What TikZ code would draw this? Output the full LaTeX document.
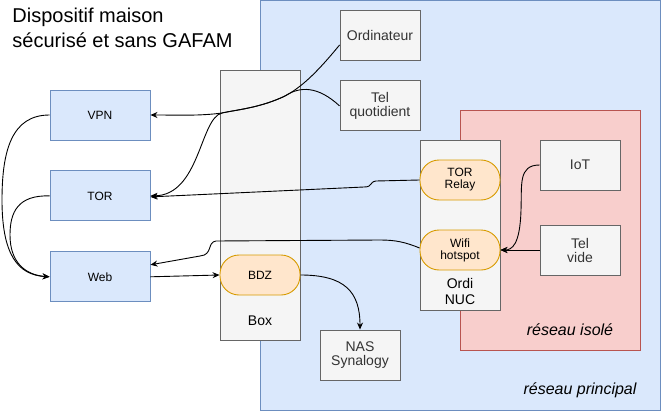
\documentclass[tikz,border=0pt]{standalone}
\usepackage{fontspec}
\setmainfont{Liberation Sans}
\usetikzlibrary{arrows.meta,positioning}
\definecolor{bleuF}{HTML}{DAE8FC}
\definecolor{bleuT}{HTML}{6C8EBF}
\definecolor{grisF}{HTML}{F5F5F5}
\definecolor{grisT}{HTML}{666666}
\definecolor{rougeF}{HTML}{F8CECC}
\definecolor{rougeT}{HTML}{B85450}
\definecolor{orF}{HTML}{FFE6CC}
\definecolor{orT}{HTML}{D79B00}
\definecolor{texte}{HTML}{333333}
\newcommand{\taille}[1]{\fontsize{#1}{#1}\selectfont}

\begin{document}
\begin{tikzpicture}[x=1pt,y=-1pt,line width=0.9pt,>={Stealth[length=7pt,width=6pt]},
  net/.style = {draw=bleuT, fill=bleuF, minimum width=100pt, minimum height=50pt, font=\taille{12}},
  dev/.style = {draw=grisT, fill=grisF, text=texte, minimum width=80pt, minimum height=50pt, align=center, font=\taille{14}},
  grp/.style = {draw=grisT, fill=grisF, minimum width=80pt},
  svc/.style = {draw=orT, fill=orF, rounded corners=19pt, minimum width=80pt, minimum height=40pt, align=center, font=\taille{12}},
  lbl/.style = {font=\taille{16}\itshape}]
  \useasboundingbox (0,0) rectangle (661,412);
  % zones
  \node[draw=bleuT, fill=bleuF, minimum width=400pt, minimum height=410pt] (princ) at (460,205) {};
  \node[draw=rougeT, fill=rougeF, minimum width=180pt, minimum height=240pt] (isole) at (550,230) {};
  \node[lbl] (princlbl) at (580,390) {réseau principal};
  \node[lbl] (isolelbl) at (570,330) {réseau isolé};
  % titre
  \node[anchor=north west, align=left, font=\fontsize{20}{24.5}\selectfont, inner sep=0pt] (titre) at (12,8) {Dispositif maison\\sécurisé et sans GAFAM};
  % box et NUC
  \node[grp, minimum height=270pt] (box) at (260,205) {};
  \node[font=\taille{14}] (boxlbl) at (260,321) {Box};
  \node[svc] (bdz) at (260,275) {BDZ};
  \node[grp, minimum height=170pt] (nuc) at (460,225) {};
  \node[font=\fontsize{14}{16}\selectfont, align=center] (nuclbl) at (460,291) {Ordi\\NUC};
  \node[svc] (relay) at (460,180) {TOR\\Relay};
  \node[svc] (wifi) at (460,250) {Wifi\\hotspot};
  % appareils
  \node[dev] (ord) at (380,35) {Ordinateur};
  \node[dev, below=20pt of ord] (telq) {Tel\\quotidient};
  \node[dev] (nas) at (360,355) {NAS\\Synalogy};
  \node[dev] (iot) at (580,165) {IoT};
  \node[dev] (telv) at (580,250) {Tel\\vide};
  % sorties
  \node[net] (vpn) at (100,115) {VPN};
  \node[net, below=30pt of vpn] (tor) {TOR};
  \node[net, below=30pt of tor] (web) {Web};
  % liens
  \draw[->] ([yshift=-10pt]ord.west) .. controls (315,75) and (300,88) .. (285,96) .. controls (260,108) and (235,110) .. (222,113) .. controls (200,116) and (180,115) .. (vpn.east);
  \draw[->] (telq.west) .. controls (318,86) and (300,86) .. (285,96) .. controls (260,108) and (235,110) .. (222,113) .. controls (200,118) and (200,195) .. (tor.east);
  \draw[->] (relay.west) -- (376,181) .. controls (369,182) and (373,187) .. (364,187) -- ([yshift=-1pt]tor.east);
  \draw[->] ([yshift=2pt]wifi.west) .. controls (405,242) and (395,240) .. (380,240) -- (216,241) .. controls (207,242) and (213,255) .. (200,256) -- ([yshift=12pt]web.east);
  \draw[->] (web.east) -- (bdz.west);
  \draw[->] (bdz.east) .. controls (345,275) and (360,292) .. (nas.north);
  \draw[->] (iot.west) .. controls (518,165) and (522,185) .. (521,210) .. controls (520,245) and (512,250) .. (wifi.east);
  \draw[->] (telv.west) -- (wifi.east);
  \draw[->] (vpn.west) .. controls (12,115) and (2,150) .. (2,200) .. controls (2,255) and (18,275) .. (web.west);
  \draw[->] (tor.west) .. controls (18,195) and (10,212) .. (10,235) .. controls (10,262) and (25,275) .. (web.west);
\end{tikzpicture}
\end{document}
